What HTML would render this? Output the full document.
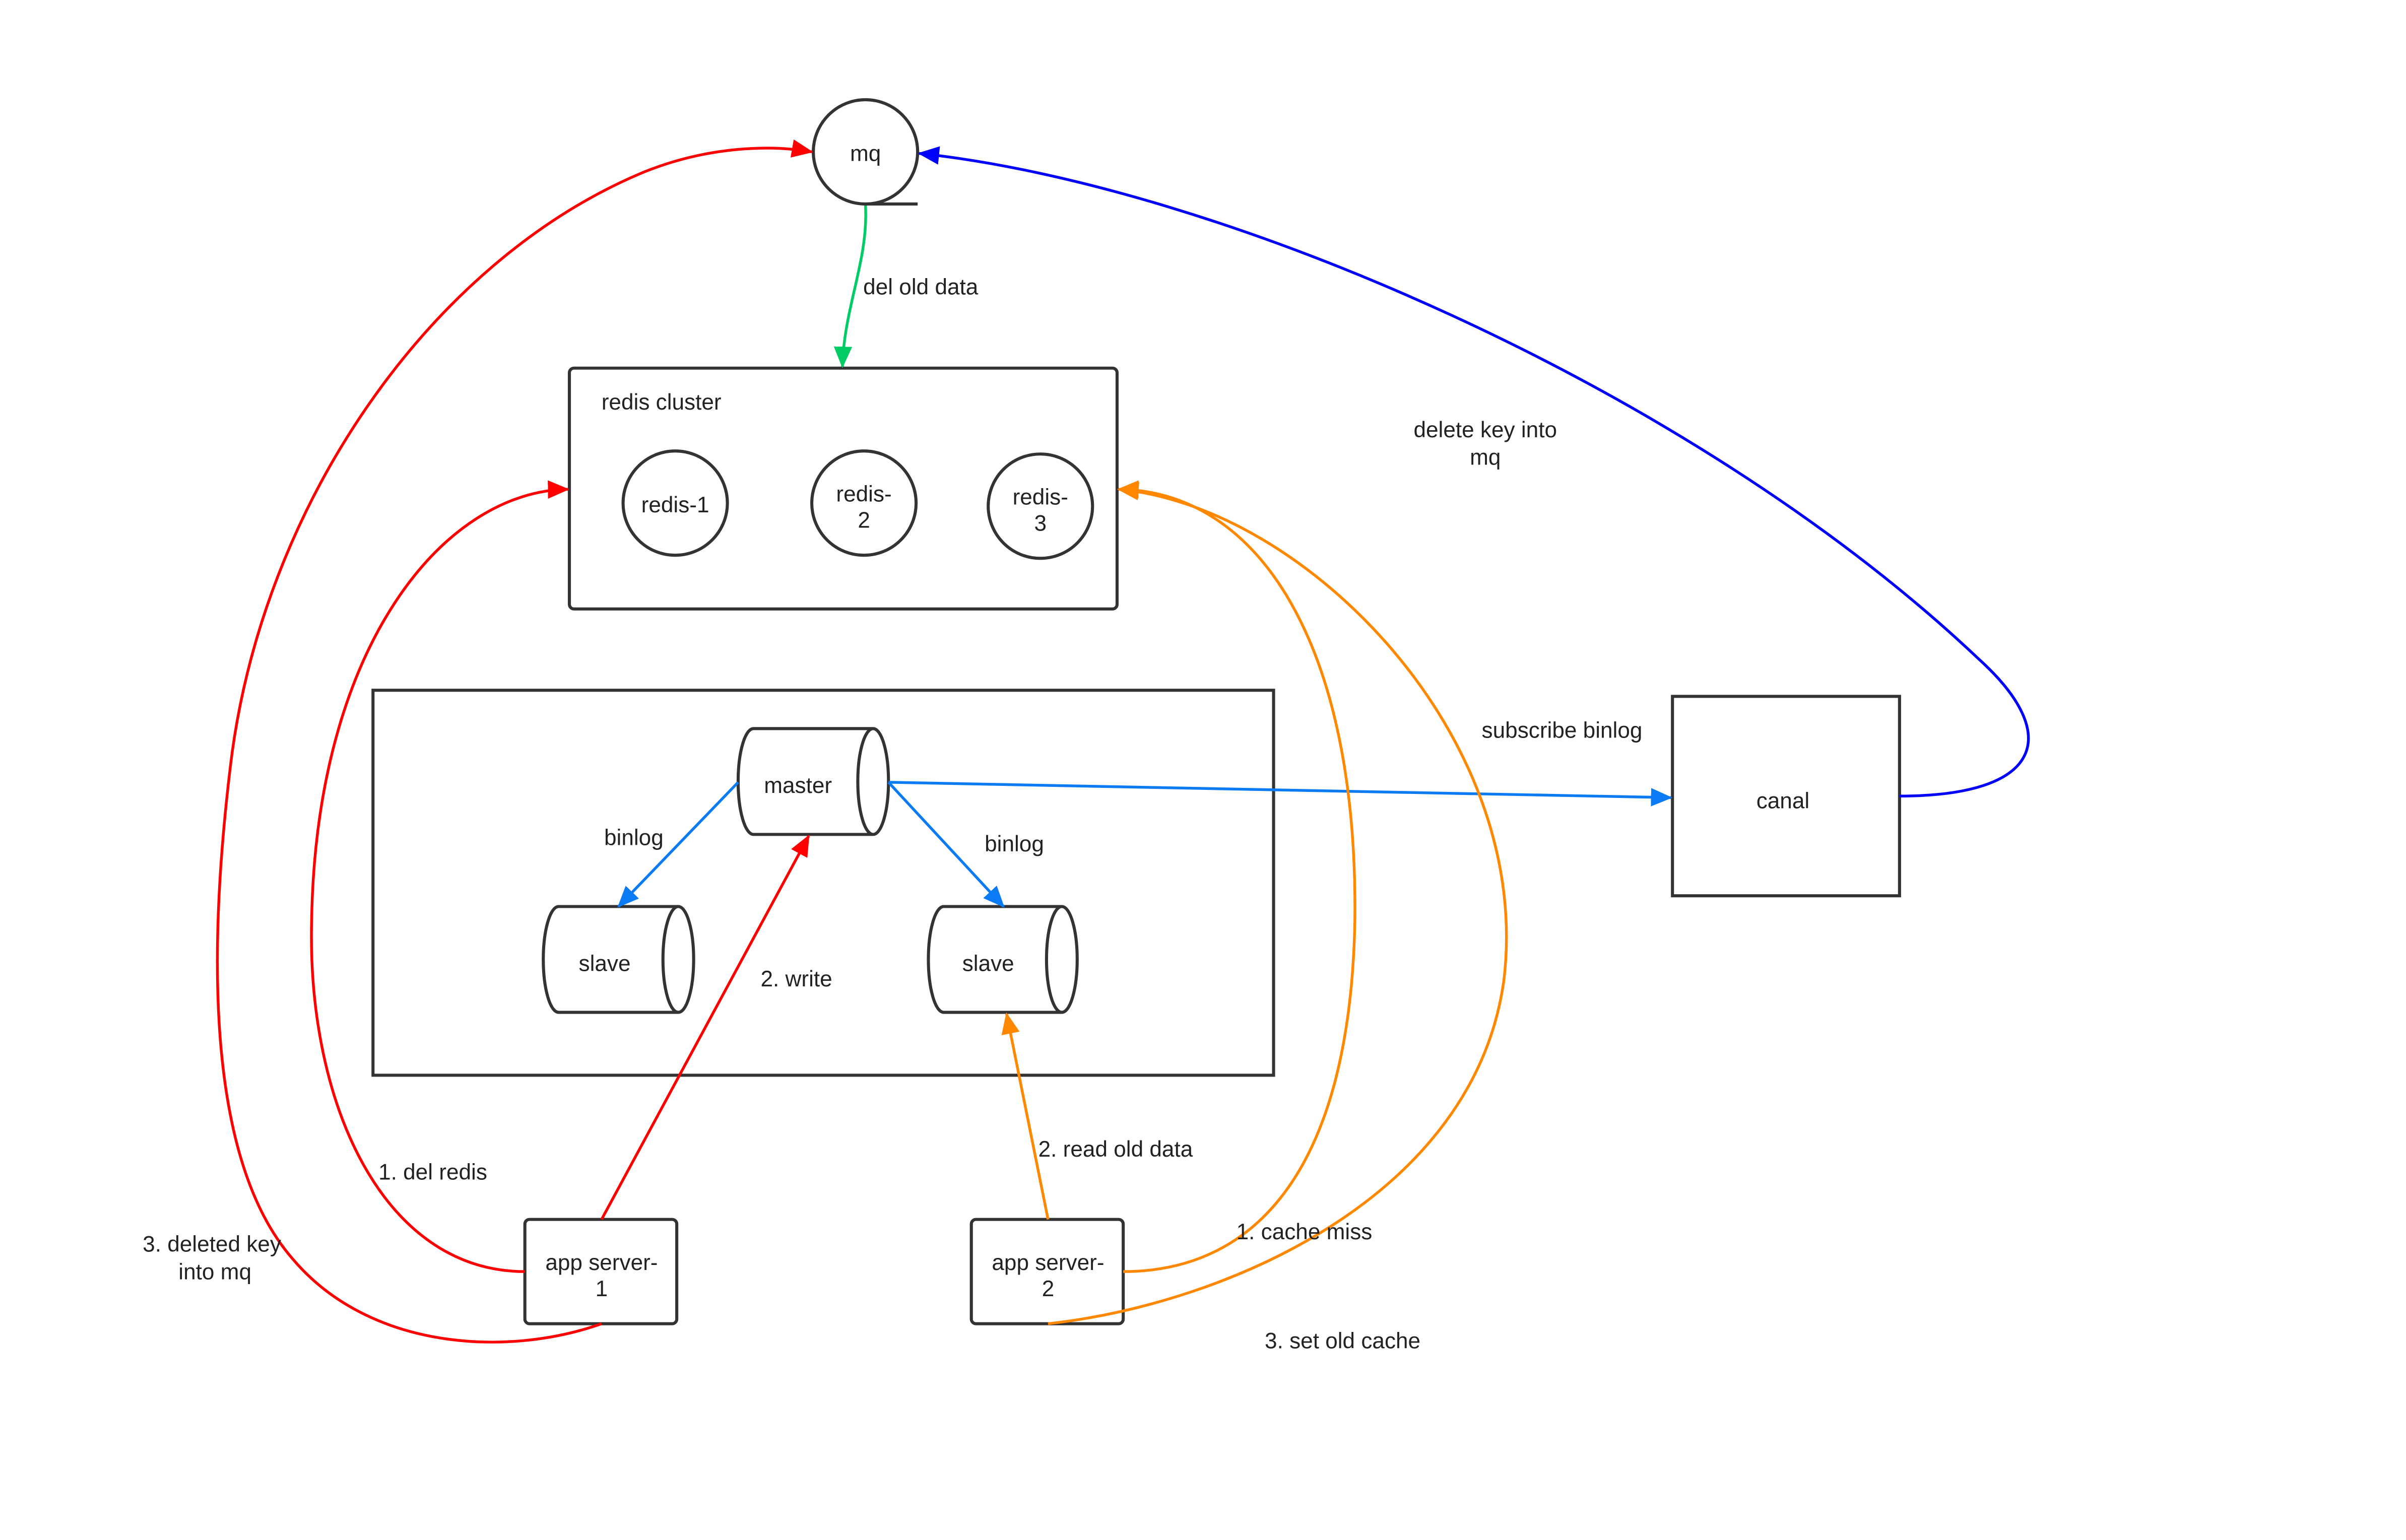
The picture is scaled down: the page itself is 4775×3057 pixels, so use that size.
<!DOCTYPE html>
<html><head><meta charset="utf-8"><style>
html,body{margin:0;padding:0;background:#fff;}
svg{display:block}
text{font-family:"Liberation Sans",sans-serif;font-size:14.5px;fill:#222;text-anchor:middle}
</style></head><body>
<svg width="4775" height="3057" viewBox="0 0 1568 1004" xmlns="http://www.w3.org/2000/svg">
<defs>
<marker id="ar" markerUnits="userSpaceOnUse" markerWidth="14" markerHeight="12" refX="13" refY="6" orient="auto"><path d="M0,0 L14,6 L0,12 Z" fill="#f00"/></marker>
<marker id="ao" markerUnits="userSpaceOnUse" markerWidth="14" markerHeight="12" refX="13" refY="6" orient="auto"><path d="M0,0 L14,6 L0,12 Z" fill="#f80"/></marker>
<marker id="ab" markerUnits="userSpaceOnUse" markerWidth="14" markerHeight="12" refX="13" refY="6" orient="auto"><path d="M0,0 L14,6 L0,12 Z" fill="#00f"/></marker>
<marker id="al" markerUnits="userSpaceOnUse" markerWidth="14" markerHeight="12" refX="13" refY="6" orient="auto"><path d="M0,0 L14,6 L0,12 Z" fill="#0a7af5"/></marker>
<marker id="ag" markerUnits="userSpaceOnUse" markerWidth="14" markerHeight="12" refX="13" refY="6" orient="auto"><path d="M0,0 L14,6 L0,12 Z" fill="#0c6"/></marker>
</defs>
<rect width="1568" height="1004" fill="#fff"/>
<g fill="none" stroke="#333" stroke-width="2">
<circle cx="564" cy="99" r="34" fill="#fff"/>
<line x1="564" y1="133" x2="598" y2="133"/>
<rect x="371" y="240" width="357" height="157" rx="3"/>
<circle cx="440" cy="328" r="34"/>
<circle cx="563" cy="328" r="34"/>
<circle cx="678" cy="330" r="34"/>
<rect x="243" y="450" width="587" height="251"/>
<path d="M491 475 L569 475 A10 34.5 0 0 1 569 544 L491 544 A10 34.5 0 0 1 491 475 Z M569 475 A10 34.5 0 0 0 569 544"/>
<path d="M364 591 L442 591 A10 34.5 0 0 1 442 660 L364 660 A10 34.5 0 0 1 364 591 Z M442 591 A10 34.5 0 0 0 442 660"/>
<path d="M615 591 L692 591 A10 34.5 0 0 1 692 660 L615 660 A10 34.5 0 0 1 615 591 Z M692 591 A10 34.5 0 0 0 692 660"/>
<rect x="1090" y="454" width="148" height="130"/>
<rect x="342" y="795" width="99" height="68" rx="3"/>
<rect x="633" y="795" width="99" height="68" rx="3"/>
</g>
<g fill="none" stroke-width="1.8">
<path d="M564 134 C566 170 550 200 549 239" stroke="#0c6" marker-end="url(#ag)"/>
<path d="M579 510 L1089 520" stroke="#0a7af5" marker-end="url(#al)"/>
<path d="M481 510 L403 591" stroke="#0a7af5" marker-end="url(#al)"/>
<path d="M579 510 L654 591" stroke="#0a7af5" marker-end="url(#al)"/>
<path d="M1238 519 C1330 519 1345 480 1290 430 C1100 250 790 120 599 100" stroke="#00f" marker-end="url(#ab)"/>
<path d="M392 795 L527 545" stroke="#f00" marker-end="url(#ar)"/>
<path d="M342 829 C250 829 200 720 203 600 C206 420 290 320 370 319" stroke="#f00" marker-end="url(#ar)"/>
<path d="M392 863 C330 885 240 880 190 820 C130 750 138 600 150 500 C170 330 280 170 420 112 C460 96 500 94 529 99" stroke="#f00" marker-end="url(#ar)"/>
<path d="M683 795 L656 661" stroke="#f80" marker-end="url(#ao)"/>
<path d="M732 829 C820 829 880 760 883 600 C885 420 820 320 729 319" stroke="#f80" marker-end="url(#ao)"/>
<path d="M683 863 C800 850 960 780 980 640 C1000 480 850 330 729 319" stroke="#f80" marker-end="url(#ao)"/>
</g>
<text x="564" y="105">mq</text>
<text x="431" y="267">redis cluster</text>
<text x="440" y="334">redis-1</text>
<text x="563" y="327">redis-</text><text x="563" y="344">2</text>
<text x="678" y="329">redis-</text><text x="678" y="346">3</text>
<text x="520" y="517">master</text>
<text x="394" y="633">slave</text>
<text x="644" y="633">slave</text>
<text x="1162" y="527">canal</text>
<text x="392" y="828">app server-</text><text x="392" y="845">1</text>
<text x="683" y="828">app server-</text><text x="683" y="845">2</text>
<text x="600" y="192">del old data</text>
<text x="968" y="285">delete key into</text><text x="968" y="303">mq</text>
<text x="1018" y="481">subscribe binlog</text>
<text x="413" y="551">binlog</text>
<text x="661" y="555">binlog</text>
<text x="519" y="643">2. write</text>
<text x="727" y="754">2. read old data</text>
<text x="282" y="769">1. del redis</text>
<text x="138" y="816">3. deleted key</text><text x="140" y="834">into mq</text>
<text x="850" y="808">1. cache miss</text>
<text x="875" y="879">3. set old cache</text>
</svg>
</body></html>
